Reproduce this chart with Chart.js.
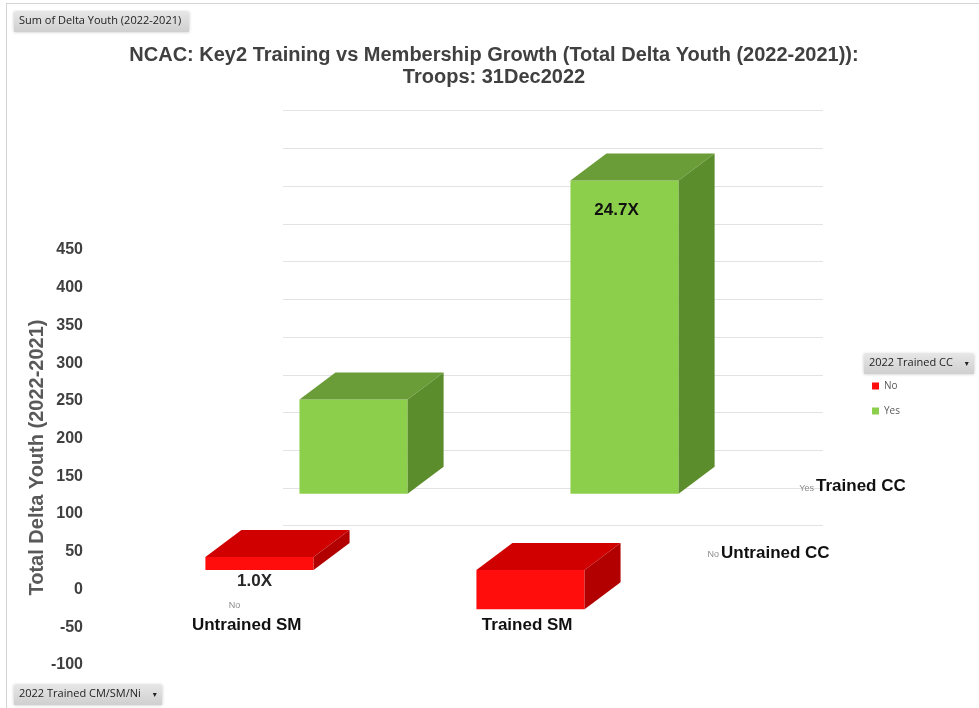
<!DOCTYPE html>
<html>
<head>
<meta charset="utf-8">
<title>NCAC Key2 Training vs Membership Growth</title>
<script src="https://cdn.jsdelivr.net/npm/chart.js@4.4.0/dist/chart.umd.min.js"></script>
<style>
    body { margin: 0; background: #fff; }
    #wrap { position: relative; width: 979px; height: 708px; overflow: hidden; }
    #frame { position: absolute; left: 6px; top: 3px; right: 0; bottom: 0; border-top: 1px solid #d4d4d4; border-left: 1px solid #d4d4d4; }
    canvas { position: absolute; left: 0; top: 0; }
    .btn {
        position: absolute; height: 20px; line-height: 20px; padding: 0 5px;
        font: 11px "Open Sans", "DejaVu Sans", sans-serif; color: #222;
        background: linear-gradient(#e6e6e6, #cfcfcf); white-space: nowrap;
        box-shadow: 0 0 3px rgba(0,0,0,0.25);
    }
    .btn .arrow { font-size: 8px; margin-left: 12px; }
</style>
</head>
<body>
<div id="wrap">
    <div id="frame"></div>
    <canvas id="graph" width="979" height="708"></canvas>
    <div class="btn" style="left:14px;top:12px;width:165px;">Sum of Delta Youth (2022-2021)</div>
    <div class="btn" style="left:14px;top:685px;">2022 Trained CM/SM/Ni<span class="arrow">&#9662;</span></div>
    <div class="btn" style="left:864px;top:354px;">2022 Trained CC<span class="arrow">&#9662;</span></div>
</div>
<script>
// categories (x) and series (2022 Trained CC)
const categories = ['Untrained SM', 'Trained SM'];
const seriesNames = ['No', 'Yes'];
const depthLabels = ['Untrained CC', 'Trained CC'];

// Sum of Delta Youth (2022-2021)
const noValues = [17, -52];
const yesValues = [125, 415];

// ratio labels shown on the bars
const noLabels = ['1.0X', ''];
const yesLabels = ['', '24.7X'];

// value axis
const yMin = -100;
const yMax = 450;
const yStep = 50;

// fake 3D: rows sit higher on the wall the deeper they are
const frontLift = 26;
const backLift = 127;
const depth = { dx: 36, dy: -27 };
const wallShift = -6;

const faceColors = [
    { top: '#d10000', side: '#b20000' },
    { top: '#6a9d37', side: '#5c8d2d' }
];

const FONT = '"Liberation Sans", Arial, sans-serif';

// back wall grid + 3D faces + labels
const threeD = {
    id: 'threeD',
    beforeDatasetsDraw(chart) {
        const ctx = chart.ctx;
        const yb = chart.scales.yB;
        const area = chart.chartArea;
        ctx.save();
        ctx.strokeStyle = '#e3e3e3';
        ctx.lineWidth = 1;
        for (let v = -50; v <= 500; v += yStep) {
            const py = Math.round(yb.getPixelForValue(v) + wallShift) + 0.5;
            ctx.beginPath();
            ctx.moveTo(area.left + 112, py);
            ctx.lineTo(area.right + 110, py);
            ctx.stroke();
        }
        ctx.restore();
    },
    afterDatasetDraw(chart, args) {
        const ctx = chart.ctx;
        const col = faceColors[args.index];
        ctx.save();
        args.meta.data.forEach(bar => {
            const l = bar.x - bar.width / 2;
            const r = bar.x + bar.width / 2;
            const top = Math.min(bar.y, bar.base);
            const bottom = Math.max(bar.y, bar.base);
            ctx.fillStyle = col.top;
            ctx.beginPath();
            ctx.moveTo(l, top);
            ctx.lineTo(l + depth.dx, top + depth.dy);
            ctx.lineTo(r + depth.dx, top + depth.dy);
            ctx.lineTo(r, top);
            ctx.closePath();
            ctx.fill();
            ctx.fillStyle = col.side;
            ctx.beginPath();
            ctx.moveTo(r, top);
            ctx.lineTo(r + depth.dx, top + depth.dy);
            ctx.lineTo(r + depth.dx, bottom + depth.dy);
            ctx.lineTo(r, bottom);
            ctx.closePath();
            ctx.fill();
        });
        ctx.restore();
    },
    afterDatasetsDraw(chart) {
        const ctx = chart.ctx;
        const area = chart.chartArea;
        const xs = chart.scales.x;
        ctx.save();
        ctx.textAlign = 'center';
        ctx.textBaseline = 'middle';
        ctx.font = 'bold 17px ' + FONT;

        // ratio labels
        const labelSets = [noLabels, yesLabels];
        chart.data.datasets.forEach((ds, di) => {
            chart.getDatasetMeta(di).data.forEach((bar, i) => {
                const txt = labelSets[di][i];
                if (!txt) return;
                const top = Math.min(bar.y, bar.base);
                const bottom = Math.max(bar.y, bar.base);
                if (di === 0) {
                    ctx.fillStyle = '#262626';
                    ctx.fillText(txt, bar.x - 5, bottom + 11);
                } else {
                    ctx.fillStyle = '#111';
                    ctx.fillText(txt, bar.x - 8, top + 30);
                }
            });
        });

        // category labels, right-aligned on the category centre
        ctx.textAlign = 'right';
        ctx.fillStyle = '#111';
        categories.forEach((c, i) => {
            ctx.fillText(c, xs.getPixelForValue(i) - 5, area.bottom - 40);
        });

        // depth (series) axis labels
        const rows = [
            { y: chart.scales.yF.getPixelForValue(0) - 17, x: area.right + 8 },
            { y: chart.scales.yB.getPixelForValue(0) - 7, x: area.right + 103 }
        ];
        rows.forEach((row, i) => {
            ctx.textAlign = 'left';
            ctx.font = 'bold 17px ' + FONT;
            ctx.fillStyle = '#111';
            ctx.fillText(depthLabels[i], row.x, row.y);
            ctx.textAlign = 'right';
            ctx.font = '9px ' + FONT;
            ctx.fillStyle = '#8c8c8c';
            ctx.fillText(seriesNames[i], row.x - 2, row.y + 2);
        });

        // stray series tag above the first category
        ctx.textAlign = 'center';
        ctx.fillText(seriesNames[0], xs.getPixelForValue(0) - 72, area.bottom - 59);
        ctx.restore();
    }
};

new Chart(document.getElementById('graph').getContext('2d'), {
    type: 'bar',
    data: {
        labels: categories,
        datasets: [{
            label: seriesNames[0],
            data: noValues,
            yAxisID: 'yF',
            backgroundColor: '#ff0d0d',
            order: 1,
            clip: false
        },
        {
            label: seriesNames[1],
            data: yesValues,
            yAxisID: 'yB',
            backgroundColor: '#8ccf4a',
            order: 2,
            clip: false
        }]
    },
    options: {
        responsive: false,
        animation: false,
        categoryPercentage: 0.694,
        barPercentage: 1.15,
        layout: { padding: { left: 20, right: 11, top: 0, bottom: 43 } },
        plugins: {
            tooltip: { enabled: false },
            title: {
                display: true,
                text: ['NCAC: Key2 Training vs Membership Growth (Total Delta Youth (2022-2021)):', 'Troops: 31Dec2022'],
                color: '#404040',
                font: { family: FONT, size: 20, weight: 'bold', lineHeight: 1.1 },
                padding: { top: 44, bottom: 162 }
            },
            legend: {
                position: 'right',
                align: 'start',
                fullSize: false,
                title: { display: true, text: ' ', font: { size: 10 }, padding: { top: 104, bottom: 0 } },
                labels: {
                    boxWidth: 7,
                    boxHeight: 7,
                    padding: 15,
                    color: '#595959',
                    font: { family: '"Open Sans", sans-serif', size: 10 }
                }
            }
        },
        scales: {
            x: {
                display: false
            },
            y: {
                position: 'left',
                min: yMin,
                max: yMax,
                grid: { display: false, drawTicks: false },
                border: { display: false },
                ticks: {
                    stepSize: yStep,
                    padding: 88,
                    color: '#404040',
                    font: { family: FONT, size: 16, weight: 'bold' }
                },
                title: {
                    display: true,
                    text: 'Total Delta Youth (2022-2021)',
                    color: '#595959',
                    font: { family: FONT, size: 20, weight: 'bold' },
                    padding: { top: 5, bottom: 0 }
                },
                afterFit: s => {
                    s.width = 151;
                    // the wide tick gap should not eat vertical room
                    s.paddingTop = 8;
                    s.paddingBottom = 8;
                }
            },
            yF: {
                display: false,
                min: yMin - frontLift,
                max: yMax - frontLift
            },
            yB: {
                position: 'right',
                min: yMin - backLift,
                max: yMax - backLift,
                grid: { display: false },
                border: { display: false },
                ticks: { display: false },
                afterFit: s => { s.width = 144; }
            },
            // empty strip right of the legend so the title centres like the original
            pad: {
                type: 'linear',
                position: 'right',
                weight: 2000,
                grid: { display: false },
                border: { display: false },
                ticks: { display: false },
                afterFit: s => { s.width = 58; }
            }
        }
    },
    plugins: [threeD]
});
</script>
</body>
</html>
